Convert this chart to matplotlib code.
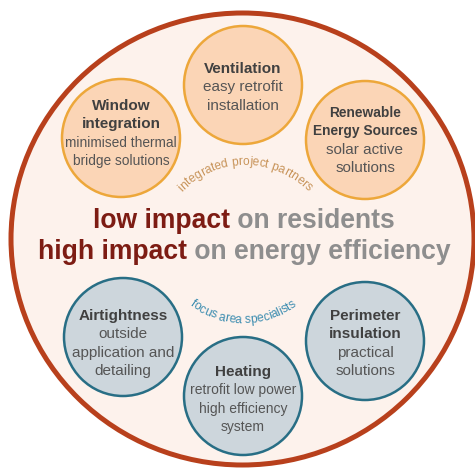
import numpy as np
import matplotlib
matplotlib.use("Agg")
import matplotlib.pyplot as plt
from matplotlib.patches import Circle, Ellipse
from matplotlib.font_manager import FontProperties
from matplotlib.textpath import TextToPath

W, H = 475, 468
PX = 72 / 100  # points per pixel at dpi 100
FONT = 'Liberation Sans'

plt.rcParams['font.family'] = [FONT, 'DejaVu Sans']

# partner circles (orange, top row)
partner_titles = [["Window", "integration"], ["Ventilation"], ["Renewable", "Energy Sources"]]
partner_notes = [["minimised thermal", "bridge solutions"], ["easy retrofit", "installation"],
                 ["solar active", "solutions"]]
# specialist circles (blue, bottom row)
specialist_titles = [["Airtightness"], ["Heating"], ["Perimeter", "insulation"]]
specialist_notes = [["outside", "application and", "detailing"],
                    ["retrofit low power", "high efficiency", "system"],
                    ["practical", "solutions"]]

headline_1 = ["low impact", " on residents"]
headline_2 = ["high impact", " on energy efficiency"]
partner_arc = "integrated project partners"
specialist_arc = "focus area specialists"

# layout (pixels)
partner_xy = [(121, 138), (243, 85), (365, 140)]
specialist_xy = [(123, 337), (243, 396), (365, 341)]
partner_text_y = [132, 86, 139]
specialist_text_y = [342, 398, 342]
partner_title_fs = [15.2, 15.2, 13.7]
partner_note_fs = [13.8, 15.2, 15.2]
specialist_title_fs = [15.2, 15.2, 15.2]
specialist_note_fs = [15.2, 13.9, 15.2]
R_SMALL = 59
LINE = 18.6

t2p = TextToPath()


def text_width(s, fs, weight='normal'):
    fp = FontProperties(family=FONT, weight=weight, size=fs)
    w_x = t2p.get_text_width_height_descent("xx", fp, ismath=False)[0]
    w = t2p.get_text_width_height_descent("x" + s + "x", fp, ismath=False)[0]
    return w - w_x


def circle_text(ax, cx, cy, titles, notes, tfs, nfs):
    lines = [(t, 'bold', tfs, '#404040') for t in titles] + [(n, 'normal', nfs, '#555555') for n in notes]
    n = len(lines)
    for i, (s, wt, fs, col) in enumerate(lines):
        y = cy + (i - (n - 1) / 2) * LINE
        ax.text(cx, y, s, fontsize=fs * PX, fontweight=wt, color=col,
                ha='center', va='center_baseline')


def arc_text(ax, s, cx, cy, r, fs, color, smile):
    widths = [text_width(c, fs) for c in s]
    pos = -sum(widths) / 2
    for c, w in zip(s, widths):
        a = (pos + w / 2) / r
        x = cx + r * np.sin(a)
        if smile:
            y = cy + r * np.cos(a)
            rot = np.degrees(a)
        else:
            y = cy - r * np.cos(a)
            rot = -np.degrees(a)
        ax.text(x, y, c, fontsize=fs * PX, color=color, rotation=rot,
                rotation_mode='anchor', ha='center', va='baseline')
        pos += w


def two_tone(ax, parts, cx, y, fs, colors):
    widths = [text_width(p, fs, 'bold') for p in parts]
    x = cx - sum(widths) / 2
    for p, w, c in zip(parts, widths, colors):
        ax.text(x, y, p, fontsize=fs * PX, fontweight='bold', color=c,
                ha='left', va='baseline')
        x += w


fig = plt.figure(figsize=(W / 100, H / 100), dpi=100)
ax = fig.add_axes([0, 0, 1, 1])
ax.set_xlim(0, W)
ax.set_ylim(H, 0)
ax.axis('off')

ax.add_patch(Ellipse((242.5, 239), 463, 452, facecolor='#fdf2ec', edgecolor='#b8401c',
                     linewidth=5 * PX))

for (x, y), ty, t, n, tf, nf in zip(partner_xy, partner_text_y, partner_titles, partner_notes,
                                    partner_title_fs, partner_note_fs):
    ax.add_patch(Circle((x, y), R_SMALL, facecolor='#fbd5b6', edgecolor='#eda73a', linewidth=2.5 * PX))
    circle_text(ax, x, ty, t, n, tf, nf)

for (x, y), ty, t, n, tf, nf in zip(specialist_xy, specialist_text_y, specialist_titles,
                                    specialist_notes, specialist_title_fs, specialist_note_fs):
    ax.add_patch(Circle((x, y), R_SMALL, facecolor='#cdd6dc', edgecolor='#286e85', linewidth=2.5 * PX))
    circle_text(ax, x, ty, t, n, tf, nf)

arc_text(ax, partner_arc, 245, 252, 87, 12, '#c8945a', smile=False)
arc_text(ax, specialist_arc, 243, 233, 90, 12, '#3d8db0', smile=True)

two_tone(ax, headline_1, 243.5, 228, 26.5, ['#7d1c13', '#8e8e8e'])
two_tone(ax, headline_2, 244.5, 259, 26.5, ['#7d1c13', '#8e8e8e'])

fig.savefig('out.png', dpi=100)
